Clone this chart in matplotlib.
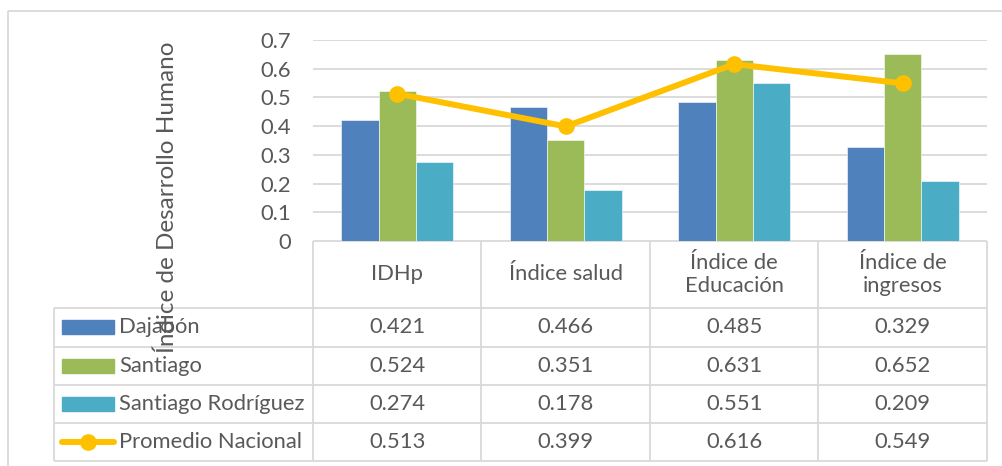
import matplotlib
matplotlib.use("Agg")
import matplotlib.pyplot as plt
import numpy as np

plt.rcParams['font.family'] = ['Lato', 'DejaVu Sans']

# data
categories = ["IDHp", "Índice salud", "Índice de\nEducación", "Índice de\ningresos"]
dajabon = [0.421, 0.466, 0.485, 0.329]
santiago = [0.524, 0.351, 0.631, 0.652]
santiago_rod = [0.274, 0.178, 0.551, 0.209]
promedio = [0.513, 0.399, 0.616, 0.549]

series_names = ["Dajabón", "Santiago", "Santiago Rodríguez", "Promedio Nacional"]
colors = ["#4F81BD", "#9BBB59", "#4BACC6", "#FFC000"]
bar_series = [dajabon, santiago, santiago_rod]
yticks = [0, 0.1, 0.2, 0.3, 0.4, 0.5, 0.6, 0.7]

W, H = 1003, 466
txt = "#595959"
grid_c = "#D9D9D9"
fs = 15.8

fig = plt.figure(figsize=(W / 100, H / 100), dpi=100)

# plot area in pixels
L, R, T, B = 313, 987, 40, 241
ax = fig.add_axes([L / W, 1 - B / H, (R - L) / W, (B - T) / H])

x = np.arange(len(categories))
bw = 1 / 4.5
for i, vals in enumerate(bar_series):
    ax.bar(x + (i - 1) * bw, vals, bw, color=colors[i], edgecolor="white",
           linewidth=0.4, zorder=2)
ax.plot(x, promedio, color=colors[3], lw=4.3, marker="o", ms=11, zorder=3,
        solid_capstyle="round")

ax.set_xlim(-0.5, len(categories) - 0.5)
ax.set_ylim(0, 0.7)
ax.set_yticks(yticks)
ax.set_yticklabels([f"{t:g}" for t in yticks])
ax.tick_params(axis="y", length=0, pad=16, labelsize=fs, labelcolor=txt)
ax.tick_params(axis="x", length=0, labelbottom=False)
ax.yaxis.grid(True, color=grid_c, lw=1.3, zorder=0)
ax.set_axisbelow(True)
for s in ax.spines.values():
    s.set_visible(False)

# overlay in pixel coords for data table and frame
ov = fig.add_axes([0, 0, 1, 1], zorder=-1)
ov.set_xlim(0, W)
ov.set_ylim(H, 0)
ov.axis("off")

def hline(y, x0, x1):
    ov.plot([x0, x1], [y, y], color=grid_c, lw=1.3, solid_capstyle="butt")

def vline(xp, y0, y1):
    ov.plot([xp, xp], [y0, y1], color=grid_c, lw=1.3, solid_capstyle="butt")

# chart frame
hline(10.5, 8.5, W)
vline(8.5, 10.5, H)

leg_left = 54
rows = [241, 308, 346.5, 385, 423, 461]
colw = (R - L) / len(categories)
cols = [L + i * colw for i in range(len(categories) + 1)]

hline(rows[0], L, R)
for y in rows[1:]:
    hline(y, leg_left, R)
for c in cols:
    vline(c, rows[0], rows[-1])
vline(leg_left, rows[1], rows[-1])

# header
for i, cat in enumerate(categories):
    ov.text((cols[i] + cols[i + 1]) / 2, (rows[0] + rows[1]) / 2, cat,
            ha="center", va="center", fontsize=fs, color=txt, linespacing=1.15)

# rows
all_series = bar_series + [promedio]
for r, (name, vals) in enumerate(zip(series_names, all_series)):
    yc = (rows[r + 1] + rows[r + 2]) / 2
    if r < 3:
        ov.add_patch(plt.Rectangle((62, yc - 7), 52, 14, color=colors[r]))
    else:
        ov.plot([62, 114], [yc, yc], color=colors[3], lw=4.3,
                solid_capstyle="round")
        ov.plot([88], [yc], marker="o", ms=11, color=colors[3])
    ov.text(119, yc, name, ha="left", va="center", fontsize=fs, color=txt)
    for i, v in enumerate(vals):
        ov.text((cols[i] + cols[i + 1]) / 2, yc, f"{v:.3f}", ha="center",
                va="center", fontsize=fs, color=txt)

# y axis title, drawn over the table as in the original
fig.text(167 / W, 1 - 197 / H, "Índice de Desarrollo Humano", rotation=90,
         ha="center", va="center", fontsize=17.5, color=txt)

fig.savefig("out.png", dpi=100)
